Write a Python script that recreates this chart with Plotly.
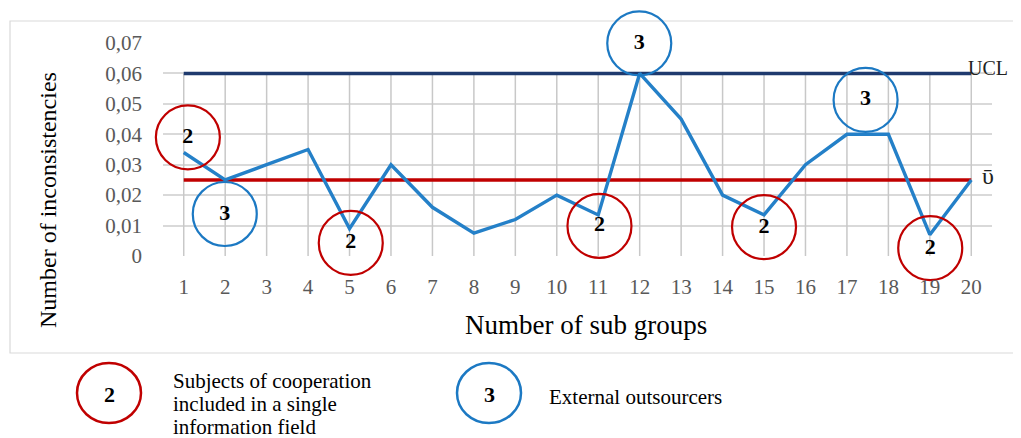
import plotly.graph_objects as go

# ---------------- data ----------------
sub_groups = list(range(1, 21))
inconsistencies = [0.034, 0.025, 0.030, 0.035, 0.009, 0.030, 0.016, 0.0075, 0.012, 0.020,
                   0.0135, 0.060, 0.045, 0.020, 0.0135, 0.030, 0.040, 0.040, 0.007, 0.025]
ucl_value = 0.06
mean_value = 0.025
y_tick_values = [0, 0.01, 0.02, 0.03, 0.04, 0.05, 0.06, 0.07]
y_tick_labels = ["0", "0,01", "0,02", "0,03", "0,04", "0,05", "0,06", "0,07"]

# circled markers: "2" = subjects of cooperation, "3" = external outsourcers
red_circle_x = [1.1, 5.03, 11.03, 15.0, 19.01]
red_circle_y = [0.039, 0.0043, 0.0099, 0.0095, 0.0026]
red_circle_label = ["2", "2", "2", "2", "2"]
blue_circle_x = [1.99, 11.99, 17.45]
blue_circle_y = [0.0138, 0.0699, 0.0513]
blue_circle_label = ["3", "3", "3"]

legend_red_text = ["Subjects of cooperation", "included in a single", "information field"]
legend_blue_text = "External outsourcers"

# ---------------- style ----------------
OFF = 8  # page body margin of the browser
W, H = 1021 - OFF, 438 - OFF
PL, PR, PT, PB = 163, 992, 43, 256  # plot area in reference pixels
L, T = PL - OFF, PT - OFF
R, B = W - (PR - OFF), H - (PB - OFF)
PW, PH = PR - PL, PB - PT
SERIF = "Liberation Serif, Times New Roman, DejaVu Serif, serif"
RED = "#C00000"
BLUE_CIRCLE = "#1C79C3"
BLUE_LINE = "#2480C8"
NAVY = "#1F3A6E"
GRID = "#D9D9D9"
TICK = "#595959"


def px_x(px):
    return (px - PL) / PW


def px_y(py):
    return (PB - py) / PH


fig = go.Figure()

# vertical drop lines from 0 up to the UCL at each sub group
vx, vy = [], []
for g in sub_groups:
    vx += [g, g, None]
    vy += [0, ucl_value, None]
fig.add_trace(go.Scatter(x=vx, y=vy, mode="lines", line=dict(color="#C8C8C8", width=1.5),
                         hoverinfo="skip", showlegend=False))

# UCL and mean lines
fig.add_trace(go.Scatter(x=sub_groups, y=[ucl_value] * len(sub_groups), mode="lines",
                         line=dict(color=NAVY, width=3.5), showlegend=False))
fig.add_trace(go.Scatter(x=sub_groups, y=[mean_value] * len(sub_groups), mode="lines",
                         line=dict(color=RED, width=3.5), showlegend=False))

# data series
fig.add_trace(go.Scatter(x=sub_groups, y=inconsistencies, mode="lines",
                         line=dict(color=BLUE_LINE, width=3.4), showlegend=False))

# circles
circle_text_font = dict(family=SERIF, size=22, color="black")
fig.add_trace(go.Scatter(x=red_circle_x, y=red_circle_y, mode="markers+text",
                         text=["<b>%s</b>" % t for t in red_circle_label],
                         textposition="middle center", textfont=circle_text_font,
                         marker=dict(symbol="circle-open", size=64, color=RED,
                                     line=dict(color=RED, width=2.2)),
                         cliponaxis=False, showlegend=False))
fig.add_trace(go.Scatter(x=blue_circle_x, y=blue_circle_y, mode="markers+text",
                         text=["<b>%s</b>" % t for t in blue_circle_label],
                         textposition="middle center", textfont=circle_text_font,
                         marker=dict(symbol="circle-open", size=64, color=BLUE_CIRCLE,
                                     line=dict(color=BLUE_CIRCLE, width=2.2)),
                         cliponaxis=False, showlegend=False))

shapes = [
    # outer chart border
    dict(type="rect", xref="paper", yref="paper", x0=px_x(10), x1=px_x(1030),
         y0=px_y(353), y1=px_y(21), line=dict(color="#D9D9D9", width=1.2), layer="below"),
    # legend circles
    dict(type="circle", xref="paper", yref="paper", x0=px_x(77), x1=px_x(141),
         y0=px_y(423), y1=px_y(363), line=dict(color=RED, width=2.5)),
    dict(type="circle", xref="paper", yref="paper", x0=px_x(457), x1=px_x(521),
         y0=px_y(423), y1=px_y(363), line=dict(color=BLUE_CIRCLE, width=2.5)),
]

annotations = [
    dict(text="Number of inconsistencies", xref="paper", yref="paper", x=px_x(48), y=px_y(200),
         textangle=-90, showarrow=False, font=dict(family=SERIF, size=24, color="black"),
         xanchor="center", yanchor="middle"),
    dict(text="Number of sub groups", xref="paper", yref="paper", x=px_x(586), y=px_y(325),
         showarrow=False, font=dict(family=SERIF, size=27, color="black"),
         xanchor="center", yanchor="middle"),
    dict(text="UCL", xref="paper", yref="paper", x=px_x(966), y=px_y(68),
         showarrow=False, font=dict(family=SERIF, size=20, color="#222222"),
         xanchor="left", yanchor="middle"),
    dict(text="\u1FE1", xref="paper", yref="paper", x=px_x(988), y=px_y(176),
         showarrow=False, font=dict(family=SERIF, size=24, color="#222222"),
         xanchor="center", yanchor="middle"),
    dict(text="<b>2</b>", xref="paper", yref="paper", x=px_x(109), y=px_y(394),
         showarrow=False, font=dict(family=SERIF, size=22, color="black"),
         xanchor="center", yanchor="middle"),
    dict(text="<b>3</b>", xref="paper", yref="paper", x=px_x(489), y=px_y(394),
         showarrow=False, font=dict(family=SERIF, size=22, color="black"),
         xanchor="center", yanchor="middle"),
    dict(text=legend_blue_text, xref="paper", yref="paper", x=px_x(547), y=px_y(397),
         showarrow=False, font=dict(family=SERIF, size=21, color="black"),
         xanchor="left", yanchor="middle"),
]
for i, line in enumerate(legend_red_text):
    annotations.append(dict(text=line, xref="paper", yref="paper", x=px_x(171), y=px_y(381 + 23 * i),
                            showarrow=False, font=dict(family=SERIF, size=21, color="black"),
                            xanchor="left", yanchor="middle"))

fig.update_layout(
    width=W, height=H,
    margin=dict(l=L, r=R, t=T, b=B, pad=0),
    paper_bgcolor="white", plot_bgcolor="white",
    shapes=shapes, annotations=annotations,
    xaxis=dict(range=[0.5, 20.5], tickmode="array", tickvals=sub_groups,
               ticktext=[str(g) for g in sub_groups], showgrid=False, zeroline=False,
               showline=False, ticks="", ticklabelstandoff=16,
               tickfont=dict(family=SERIF, size=21, color=TICK)),
    yaxis=dict(range=[0, 0.07], tickmode="array", tickvals=y_tick_values, ticktext=y_tick_labels,
               showgrid=True, gridcolor=GRID, gridwidth=1.5, zeroline=False, showline=False,
               ticks="", ticklabelstandoff=20,
               tickfont=dict(family=SERIF, size=21, color=TICK)),
)

fig.write_html("out.html")
